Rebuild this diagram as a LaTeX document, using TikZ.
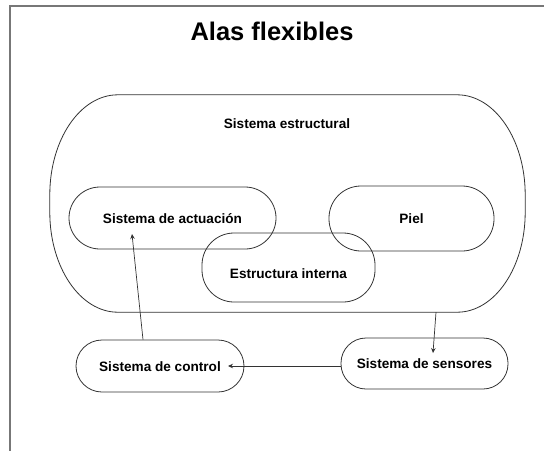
\documentclass[tikz,border=0pt]{standalone}
\usepackage{fontspec}
\setmainfont{Liberation Sans}
\usetikzlibrary{arrows.meta}
\definecolor{ln}{HTML}{333333}
\definecolor{fr}{HTML}{777777}
\tikzset{
  pill/.style={draw=ln, line width=0.8pt, font=\bfseries\fontsize{13.6}{16}\selectfont,
    text height=10pt, text depth=0pt, inner sep=0pt, align=center},
  txt/.style={font=\bfseries\fontsize{13.6}{16}\selectfont, inner sep=0pt},
  arr/.style={draw=ln, line width=0.7pt, -{Stealth[length=5pt,width=4.5pt]}},
}
\begin{document}
\begin{tikzpicture}[x=1pt,y=1pt]
\useasboundingbox (0,0) rectangle (544,-451);
% frame
\draw[fr, line width=1.3pt] (544,-6) -- (10,-6) -- (10,-451);
% title
\node[font=\bfseries\fontsize{25.5}{30}\selectfont, anchor=base, inner sep=0pt] (title) at (272,-40) {Alas flexibles};
% outer structural system
\node[minimum width=475pt, minimum height=217pt, inner sep=0pt] (estr) at (287.5,-203.5) {};
\draw[ln, line width=0.8pt]
  ([xshift=68pt]estr.north west) -- ([xshift=-68pt]estr.north east)
  arc[start angle=90, end angle=0, x radius=68pt, y radius=100pt]
  -- ([yshift=100pt]estr.south east)
  arc[start angle=0, end angle=-90, x radius=68pt, y radius=100pt]
  -- ([xshift=68pt]estr.south west)
  arc[start angle=270, end angle=180, x radius=68pt, y radius=100pt]
  -- ([yshift=-100pt]estr.north west)
  arc[start angle=180, end angle=90, x radius=68pt, y radius=100pt] -- cycle;
\node[txt, anchor=base] (estrtxt) at (287,-128) {Sistema estructural};
% inner nodes
\node[pill, minimum width=207pt, minimum height=62pt, rounded corners=31pt] (act) at (172.5,-218) {Sistema de actuación};
\node[pill, minimum width=165pt, minimum height=65pt, rounded corners=32pt] (piel) at (411.5,-218.5) {Piel};
\node[pill, minimum width=173pt, minimum height=69pt, rounded corners=32pt, text height=22pt] (estint) at (288.5,-267.5) {Estructura interna};
\node[pill, minimum width=168pt, minimum height=52pt, rounded corners=26pt] (ctrl) at (160,-366) {Sistema de control};
\node[pill, minimum width=167pt, minimum height=51pt, rounded corners=25pt] (sens) at (424.5,-363.5) {Sistema de sensores};
% connectors
\draw[arr] ([xshift=148.5pt]estr.south) -- ([xshift=8.5pt,yshift=10.5pt]sens.center);
\draw[arr] ([yshift=-2.5pt]sens.west) -- ([xshift=68pt]ctrl.center);
\draw[arr] ([xshift=-17pt]ctrl.north) -- ([xshift=-40.5pt,yshift=-16pt]act.center);
\end{tikzpicture}
\end{document}
